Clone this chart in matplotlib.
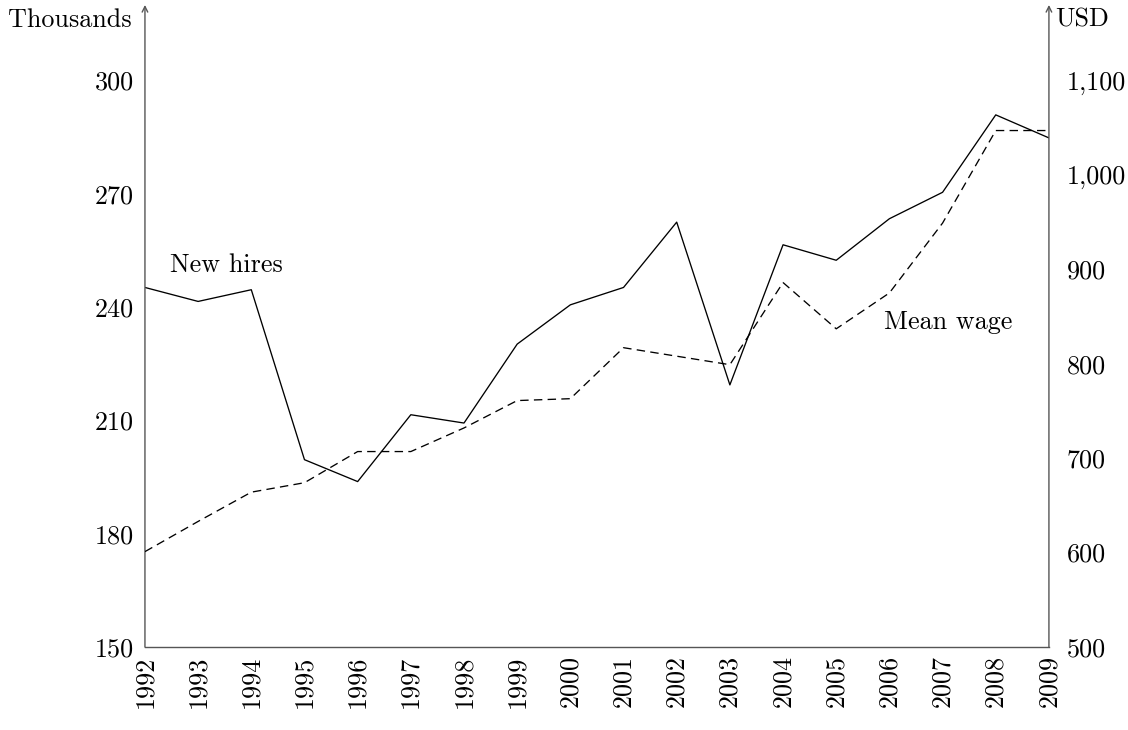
import matplotlib.pyplot as plt
import numpy as np

plt.rcParams['font.family'] = ['cmr10', 'DejaVu Serif']
plt.rcParams['axes.formatter.use_mathtext'] = True

years = [1992, 1993, 1994, 1995, 1996, 1997, 1998, 1999, 2000,
         2001, 2002, 2003, 2004, 2005, 2006, 2007, 2008, 2009]
new_hires = [245.2, 241.5, 244.6, 199.6, 193.8, 211.5, 209.3, 230.2, 240.6,
             245.2, 262.5, 219.4, 256.5, 252.4, 263.4, 270.4, 290.9, 284.8]
mean_wage = [601, 633, 664, 674, 707, 707, 732, 761, 763,
             817, 808, 799, 886, 837, 875, 949, 1047, 1047]

left_ticks = [150, 180, 210, 240, 270, 300]
right_ticks = [500, 600, 700, 800, 900, 1000, 1100]
right_labels = ['500', '600', '700', '800', '900', '1,000', '1,100']

fs = 18.8

fig = plt.figure(figsize=(11.28, 7.3), dpi=100)
ax = fig.add_axes([0.1285, 0.1137, 0.8014, 0.8795])
ax2 = ax.twinx()

ax.plot(years, new_hires, color='black', lw=0.95)
ax2.plot(years, mean_wage, color='black', lw=0.95, dashes=(6.4, 4))

ax.set_xlim(1992, 2009)
ax.set_ylim(150, 320)
ax2.set_ylim(500, 1180)

ax.set_xticks(years)
ax.set_xticklabels([str(y) for y in years], rotation=90)
ax.set_yticks(left_ticks)
ax.set_yticklabels([str(t) for t in left_ticks])
ax2.set_yticks(right_ticks)
ax2.set_yticklabels(right_labels)

for a in (ax, ax2):
    a.tick_params(length=0, labelsize=fs, pad=10)
    for s in ('top', 'left', 'right'):
        a.spines[s].set_visible(False)
ax.tick_params(axis='x', pad=6)
ax.tick_params(axis='y', pad=8)
ax2.tick_params(axis='y', pad=13)
ax.spines['bottom'].set_color('#555555')
ax.spines['bottom'].set_linewidth(1.0)
ax2.spines['bottom'].set_visible(False)

# axis lines with arrow heads on the left and right
for xf in (0, 1):
    ax.annotate('', xy=(xf, 1.0), xytext=(xf, 0), xycoords='axes fraction',
                arrowprops=dict(arrowstyle='->', color='#555555', lw=1.0,
                                shrinkA=0, shrinkB=0, mutation_scale=10))

ax.text(-0.0144, 0.977, 'Thousands', transform=ax.transAxes,
        ha='right', va='center', fontsize=fs)
ax.text(1.0066, 0.977, 'USD', transform=ax.transAxes,
        ha='left', va='center', fontsize=fs)

ax.text(1992.47, 251, 'New hires', fontsize=fs, ha='left', va='center')
ax2.text(2005.9, 844, 'Mean wage', fontsize=fs, ha='left', va='center')

fig.savefig('out.png')
